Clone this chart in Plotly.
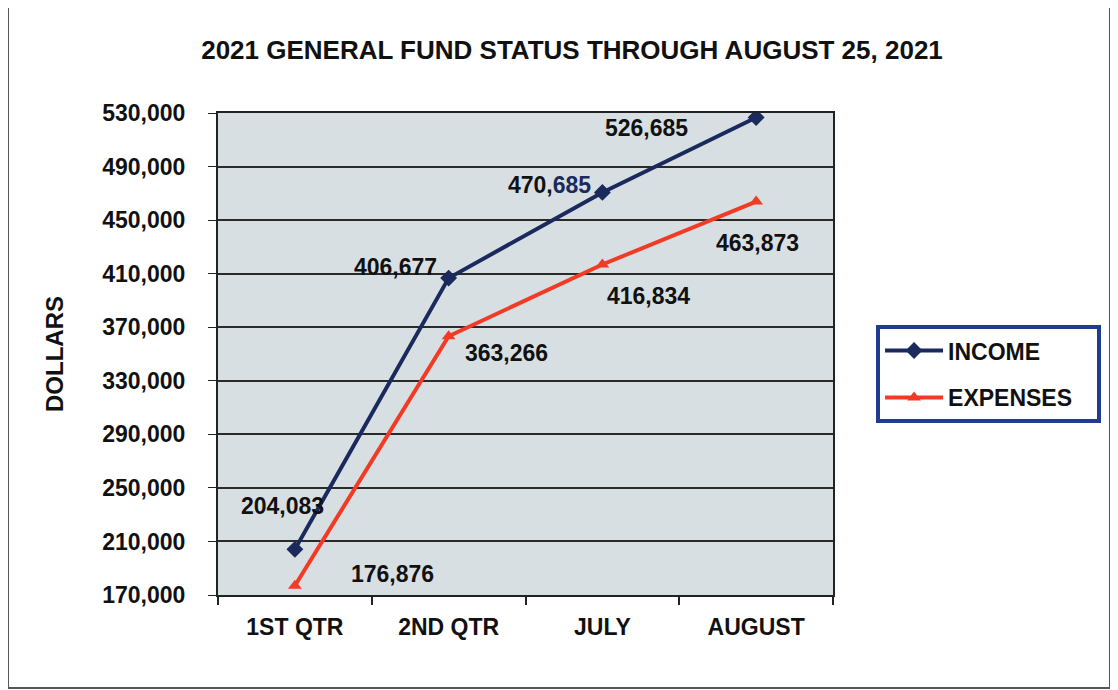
import plotly.graph_objects as go

categories = ["1ST QTR", "2ND QTR", "JULY", "AUGUST"]
income = [204083, 406677, 470685, 526685]
expenses = [176876, 363266, 416834, 463873]
income_labels = ["204,083", "406,677", "470,<span style='color:#1b2a5c'>685</span>", "526,685"]
expense_labels = ["176,876", "363,266", "416,834", "463,873"]
y_ticks = [170000, 210000, 250000, 290000, 330000, 370000, 410000, 450000, 490000, 530000]

FONT = "Arial, Liberation Sans, sans-serif"
NAVY = "#1b2a5c"
RED = "#f23a25"
FS = 23

fig = go.Figure()
fig.add_trace(go.Scatter(
    x=categories, y=income, name="INCOME", mode="lines+markers", legendgroup="a",
    line=dict(color=NAVY, width=4),
    marker=dict(symbol="diamond", size=13, color=NAVY),
))
fig.add_trace(go.Scatter(
    x=categories, y=expenses, name="EXPENSES&nbsp;&nbsp;&nbsp;", mode="lines+markers", legendgroup="b",
    line=dict(color=RED, width=4),
    marker=dict(symbol="triangle-up", size=12, color=RED),
))

inc_shift = [(-12, 43), (-53, 11), (-53, 7), (-110, -11)]
exp_shift = [(98, 12), (58, -17), (46, -31), (1, -41)]
for i, c in enumerate(categories):
    fig.add_annotation(x=c, y=income[i], text=income_labels[i], showarrow=False,
                       xshift=inc_shift[i][0], yshift=inc_shift[i][1],
                       font=dict(family=FONT, size=FS, color="#111", weight="bold"))
    fig.add_annotation(x=c, y=expenses[i], text=expense_labels[i], showarrow=False,
                       xshift=exp_shift[i][0], yshift=exp_shift[i][1],
                       font=dict(family=FONT, size=FS, color="#111", weight="bold"))

# outer chart border
fig.add_shape(type="rect", xref="paper", yref="paper",
              x0=-0.3415, x1=1.4504, y0=-0.193, y1=1.22,
              line=dict(color="#555", width=2), layer="below")

fig.update_layout(
    width=1110, height=682,
    margin=dict(l=210, r=285, t=105, b=95, autoexpand=False),
    paper_bgcolor="white",
    plot_bgcolor="#d8dfe2",
    font=dict(family=FONT, color="#111"),
    title=dict(text="2021 GENERAL FUND STATUS THROUGH AUGUST 25, 2021",
               x=564/1110, xanchor="center", xref="container",
               y=1-42/682, yanchor="middle", yref="container",
               font=dict(family=FONT, size=26, color="#111", weight="bold")),
    showlegend=True,
    legend=dict(x=1.07, y=0.56, xanchor="left", yanchor="top",
                bgcolor="white", bordercolor="#1f3c8f", borderwidth=4,
                font=dict(family=FONT, size=FS, color="#111", weight="bold"),
                itemwidth=58, tracegroupgap=14),
    xaxis=dict(
        type="category", range=[-0.5, 3.5], showgrid=False, showline=True,
        linecolor="#222", linewidth=2,
        ticks="outside", tickson="boundaries", ticklen=8, tickcolor="#222", tickwidth=1.5,
        mirror=True, ticklabelstandoff=10,
        tickfont=dict(family=FONT, size=FS, color="#111", weight="bold"),
    ),
    yaxis=dict(
        range=[170000, 530000], tickvals=y_ticks, tickformat=",",
        showgrid=True, gridcolor="#2a2a2a", gridwidth=1.5,
        showline=True, linecolor="#222", linewidth=2, mirror=True,
        ticks="outside", ticklen=8, tickcolor="#222", ticklabelstandoff=18,
        tickfont=dict(family=FONT, size=FS, color="#111", weight="bold"),
        title=dict(text="DOLLARS", standoff=32,
                   font=dict(family=FONT, size=24, color="#111", weight="bold")),
    ),
)

fig.write_html("out.html")
